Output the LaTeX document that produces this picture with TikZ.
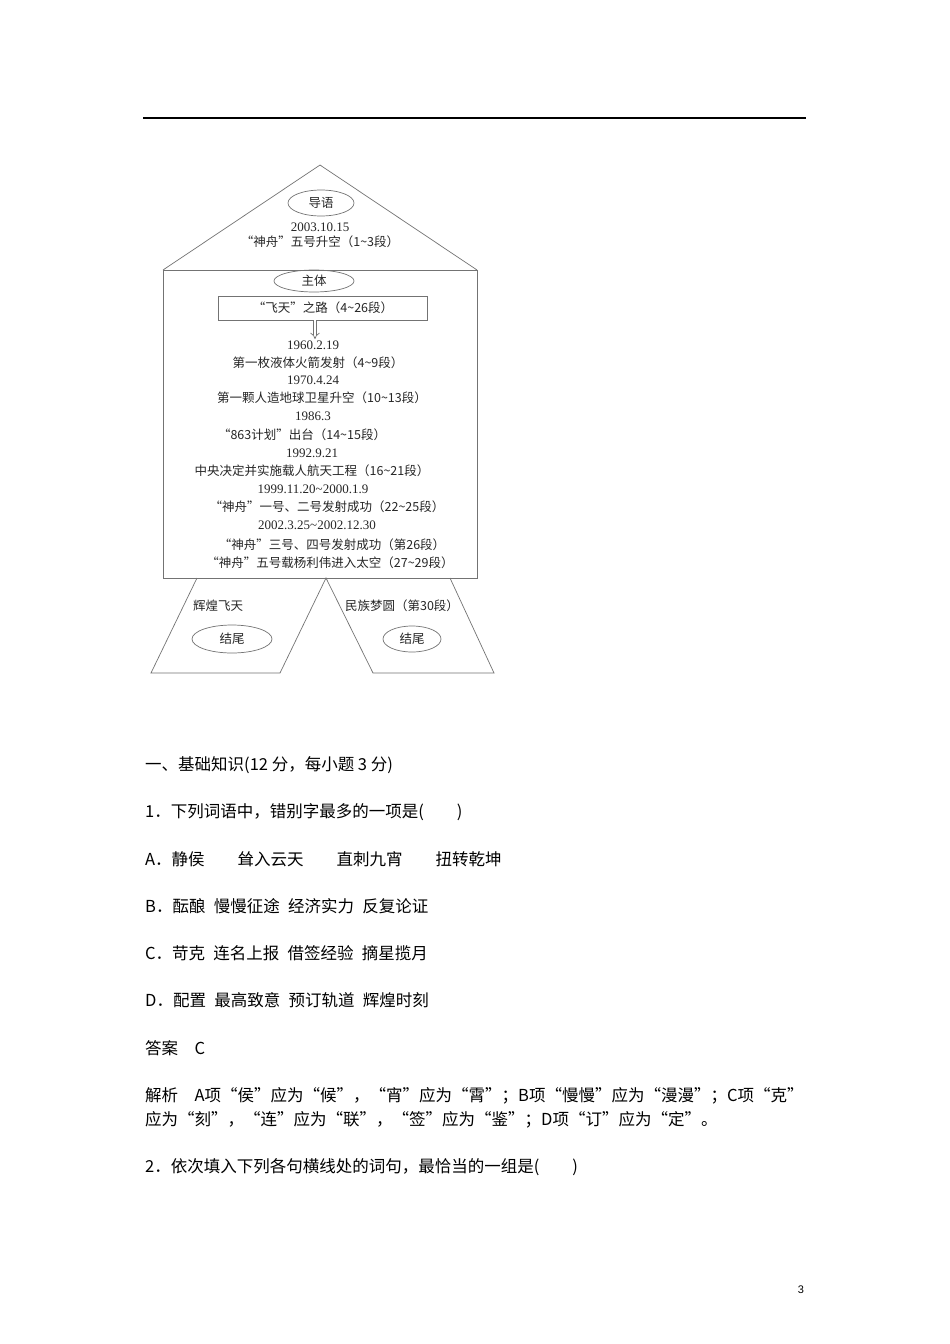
\documentclass[tikz,border=0pt]{standalone}
\usepackage{fontspec}
\setmainfont{Liberation Serif}
\newfontfamily\cjk{Noto Sans CJK SC}
\newfontfamily\lsans{Liberation Sans}
\usetikzlibrary{arrows.meta,shapes.geometric}
\begin{document}
\begin{tikzpicture}[x=1pt,y=-1pt,
  gl/.style={draw=black!55, line width=0.7pt},
  dtxt/.style={font=\fontsize{12.5}{14}\selectfont\cjk, inner sep=0pt, text=black!85},
  ddate/.style={font=\fontsize{13}{14}\selectfont, inner sep=0pt, text=black!85},
  oval/.style={gl, ellipse, inner sep=0pt, font=\fontsize{12.5}{14}\selectfont\cjk, text=black!85},
  bodytxt/.style={font=\fontsize{16.5}{20}\selectfont\cjk, inner sep=0pt, anchor=west}]
\useasboundingbox[fill=white] (0,0) rectangle (950,1344);
% top rule
\coordinate (rl) at (143,118);
\coordinate (rr) at (806,118);
\draw[line width=1.2pt] (rl) -- (rr);
% house outline
\coordinate (apex) at (320,165);
\coordinate (tl) at (163,270);
\coordinate (tr) at (477,270);
\coordinate (bl) at (163,578);
\coordinate (br) at (477,578);
\draw[gl] (tl) -- (apex) -- (tr);
\draw[gl] (tl) rectangle (br);
% roof content
\node[oval, minimum width=66pt, minimum height=26pt] (daoyu) at (321,203) {导语};
\node[ddate] (d0) at (320,227) {2003.10.15};
\node[dtxt] (t0) at (320,242) {“神舟”五号升空（1\textasciitilde3段）};
% body
\node[oval, minimum width=80pt, minimum height=22pt] (zhuti) at (314,281) {主体};
\node[gl, minimum width=209pt, minimum height=24pt, inner sep=0pt, dtxt] (road) at (323,308) {“飞天”之路（4\textasciitilde26段）};
\coordinate (arrE) at (315,339);
\draw[gl, double, double distance=2.6pt, -{Implies}] (road.south -| arrE) -- (arrE);
\node[ddate] (d1) at (313,345) {1960.2.19};
\node[dtxt] (t1) at (318,363) {第一枚液体火箭发射（4\textasciitilde9段）};
\node[ddate] (d2) at (313,380) {1970.4.24};
\node[dtxt] (t2) at (322,398) {第一颗人造地球卫星升空（10\textasciitilde13段）};
\node[ddate] (d3) at (313,416) {1986.3};
\node[dtxt] (t3) at (302,435) {“863计划”出台（14\textasciitilde15段）};
\node[ddate] (d4) at (312,453) {1992.9.21};
\node[dtxt] (t4) at (312,471) {中央决定并实施载人航天工程（16\textasciitilde21段）};
\node[ddate] (d5) at (313,489) {1999.11.20\textasciitilde2000.1.9};
\node[dtxt] (t5) at (327,507) {“神舟”一号、二号发射成功（22\textasciitilde25段）};
\node[ddate] (d6) at (317,525) {2002.3.25\textasciitilde2002.12.30};
\node[dtxt] (t6) at (332,545) {“神舟”三号、四号发射成功（第26段）};
\node[dtxt] (t7) at (330,563) {“神舟”五号载杨利伟进入太空（27\textasciitilde29段）};
% bottom trapezoids
\coordinate (lt) at (197,578);
\coordinate (mid) at (326,578);
\coordinate (rt) at (450,578);
\coordinate (lb1) at (151,673);
\coordinate (lb2) at (280,673);
\coordinate (rb1) at (373,673);
\coordinate (rb2) at (494,673);
\draw[gl] (lt) -- (lb1) -- (lb2) -- (mid) -- (rb1) -- (rb2) -- (rt);
\node[dtxt] (hh) at (218,606) {辉煌飞天};
\node[dtxt] (mz) at (402,606) {民族梦圆（第30段）};
\node[oval, minimum width=80pt, minimum height=28pt] (jw1) at (232,639) {结尾};
\node[oval, minimum width=58pt, minimum height=26pt] (jw2) at (412,639) {结尾};
% question text
\node[bodytxt] (h1) at (145,765) {一、基础知识(12 分，每小题 3 分)};
\node[bodytxt] (q1) at (145,812) {1．下列词语中，错别字最多的一项是(　　)};
\node[bodytxt] (qa) at (145,859) {A．静侯　　耸入云天　　直刺九宵　　扭转乾坤};
\node[bodytxt] (qb) at (145,906) {B．酝酿\hspace{0.5em}慢慢征途\hspace{0.5em}经济实力\hspace{0.5em}反复论证};
\node[bodytxt] (qc) at (145,953) {C．苛克\hspace{0.5em}连名上报\hspace{0.5em}借签经验\hspace{0.5em}摘星揽月};
\node[bodytxt] (qd) at (145,1000) {D．配置\hspace{0.5em}最高致意\hspace{0.5em}预订轨道\hspace{0.5em}辉煌时刻};
\node[bodytxt] (ans) at (145,1048) {答案　C};
\node[bodytxt] (jx1) at (145,1096) {解析　A项“侯”应为“候”，“宵”应为“霄”；B项“慢慢”应为“漫漫”；C项“克”};
\node[bodytxt] (jx2) at (145,1120) {应为“刻”，“连”应为“联”，“签”应为“鉴”；D项“订”应为“定”。};
\node[bodytxt] (q2) at (145,1167) {2．依次填入下列各句横线处的词句，最恰当的一组是(　　)};
\node[font=\fontsize{11}{12}\selectfont\lsans, inner sep=0pt] (pg) at (801,1290) {3};
\end{tikzpicture}
\end{document}
